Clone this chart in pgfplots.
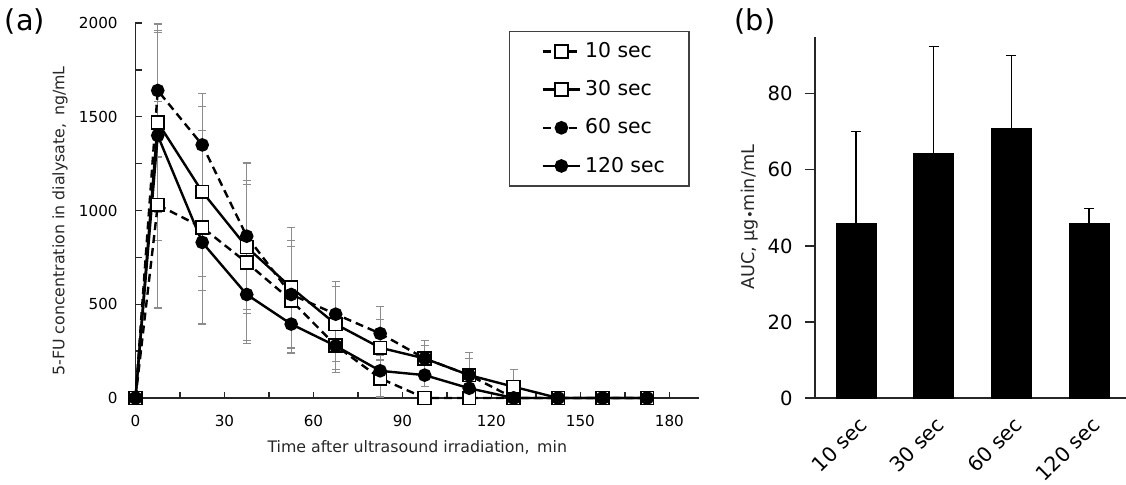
\documentclass[border=0pt]{standalone}
\usepackage{pgfplots}
\pgfplotsset{compat=1.18}
\usepackage{pgfplotstable}
\usepackage{fontspec}
\setmainfont{DejaVu Sans}

\pgfplotstableread{
t y e
0 0 0
7.5 1030 550
22.5 910 515
37.5 722 415
52.5 521 285
67.5 280 130
82.5 105 100
97.5 0 0
112.5 0 0
127.5 0 0
142.5 0 0
157.5 0 0
172.5 0 0
}\tensec
\pgfplotstableread{
t y e
0 0 0
7.5 1470 480
22.5 1100 453
37.5 805 355
52.5 589 320
67.5 394 200
82.5 268 150
97.5 211 70
112.5 122 90
127.5 60 90
142.5 0 0
157.5 0 0
172.5 0 0
}\thirtysec
\pgfplotstableread{
t y e
0 0 0
7.5 1640 355
22.5 1350 275
37.5 863 390
52.5 552 290
67.5 447 175
82.5 344 145
97.5 211 95
112.5 122 119
127.5 0 0
142.5 0 0
157.5 0 0
172.5 0 0
}\sixtysec
\pgfplotstableread{
t y e
0 0 0
7.5 1400 560
22.5 830 256
37.5 552 260
52.5 394 150
67.5 278 140
82.5 145 80
97.5 122 60
112.5 52 50
127.5 0 0
142.5 0 0
157.5 0 0
172.5 0 0
}\onetwentysec

\begin{document}
\begin{tikzpicture}
\useasboundingbox (0,0) rectangle (563pt,242pt);
\node[font=\fontsize{14.4}{16}\selectfont, inner sep=0pt] at (12.5pt,231.5pt) {(a)};
\node[font=\fontsize{14.4}{16}\selectfont, inner sep=0pt] at (377.5pt,231.5pt) {(b)};

\begin{axis}[
  at={(67.75pt,43pt)}, anchor=south west,
  width=281.75pt, height=187.5pt, scale only axis,
  xmin=0, xmax=190, ymin=0, ymax=2000,
  clip=false,
  axis x line=bottom, axis y line=left,
  axis line style={-, line width=0.65pt, black!85},
  xtick={0,30,...,180}, minor xtick={15,45,...,165},
  ytick={0,500,...,2000}, minor ytick={250,750,...,1750},
  tick align=inside, major tick length=3pt, minor tick length=3pt,
  every tick/.style={black!85, line width=0.65pt},
  /pgf/number format/assume math mode=true,
  /pgf/number format/1000 sep={},
  tick label style={font=\fontsize{7.6}{9}\selectfont},
  xticklabel style={inner ysep=0pt, yshift=-8.5pt},
  yticklabel style={inner xsep=0pt, xshift=-8.75pt},
  xlabel={Time after ultrasound irradiation,\ \,min},
  ylabel={5-FU concentration in dialysate,\ \,ng/mL},
  label style={font=\fontsize{7.9}{9}\selectfont, text=black!85},
  xlabel style={at={(axis description cs:0.5,-0.131)}, anchor=center},
  ylabel style={at={(axis description cs:-0.134,0.472)}, anchor=center},
  legend style={at={(axis description cs:0.663,0.979)}, anchor=north west,
    draw=black!75, line width=0.6pt, font=\fontsize{10.2}{12}\selectfont,
    row sep=6pt, inner xsep=10pt, inner ysep=3.5pt},
  legend cell align=left,
  legend image code/.code={\path (0pt,0pt); \draw[mark repeat=2,mark phase=2,#1] plot coordinates {(6pt,0pt) (15.25pt,0pt) (24.5pt,0pt)};},
  err/.style={only marks, mark=none, forget plot, gray,
    error bars/.cd, y dir=both, y explicit,
    error bar style={black!45, line width=0.6pt},
    error mark options={black!45, rotate=90, mark size=2pt, line width=0.6pt}},
  dsh/.style={dash pattern=on 4pt off 2.5pt},
]
\addplot[err] table[x=t,y=y,y error=e]{\tensec};
\addplot[err] table[x=t,y=y,y error=e]{\thirtysec};
\addplot[err] table[x=t,y=y,y error=e]{\sixtysec};
\addplot[err] table[x=t,y=y,y error=e]{\onetwentysec};

\addplot[black, line width=1.2pt, dsh, mark=square*, mark size=3.2pt, mark options={solid, fill=white, line width=0.8pt}]
  table[x=t,y=y]{\tensec};
\addlegendentry{10 sec}
\addplot[black, line width=1.2pt, mark=square*, mark size=3.2pt, mark options={solid, fill=white, line width=0.8pt}]
  table[x=t,y=y]{\thirtysec};
\addlegendentry{30 sec}
\addplot[black, line width=1.2pt, dsh, mark=*, mark size=2.8pt, mark options={solid, fill=black}]
  table[x=t,y=y]{\sixtysec};
\addlegendentry{60 sec}
\addplot[black, line width=1.2pt, mark=*, mark size=2.8pt, mark options={solid, fill=black}]
  table[x=t,y=y]{\onetwentysec};
\addlegendentry{120 sec}
\end{axis}

\begin{axis}[
  at={(407.5pt,43pt)}, anchor=south west,
  width=155.5pt, height=180.65pt, scale only axis,
  xmin=0.472, xmax=4.476, ymin=0, ymax=95,
  axis x line=bottom, axis y line=left,
  axis line style={-, line width=0.65pt, black!85},
  xtick={1,2,3,4}, xticklabels={10 sec,30 sec,60 sec,120 sec},
  ytick={0,20,...,80},
  tick align=outside, major tick length=5pt,
  ytick style={black!85, line width=0.65pt},
  xtick style={draw=none},
  /pgf/number format/assume math mode=true,
  tick label style={font=\fontsize{9.8}{11}\selectfont},
  yticklabel style={inner xsep=0pt, xshift=-6pt},
  xticklabel style={rotate=45, anchor=north east, inner sep=1pt, xshift=-1pt, yshift=-2pt, font=\fontsize{10.2}{12}\selectfont},
  ylabel={AUC, µg{\scalebox{0.75}{•}}min/mL},
  ylabel style={at={(axis description cs:-0.209,0.5)}, anchor=center, font=\fontsize{8.8}{10}\selectfont, text=black!85},
]
\addplot[ybar, bar width=20pt, fill=black, draw=black,
  error bars/.cd, y dir=plus, y explicit,
  error bar style={black, line width=0.7pt},
  error mark options={black, rotate=90, mark size=2.5pt, line width=0.7pt}]
  coordinates {(1,46.0) +- (0,24.1) (2,64.2) +- (0,28.3) (3,70.8) +- (0,19.2) (4,46.0) +- (0,3.8)};
\end{axis}
\end{tikzpicture}
\end{document}
